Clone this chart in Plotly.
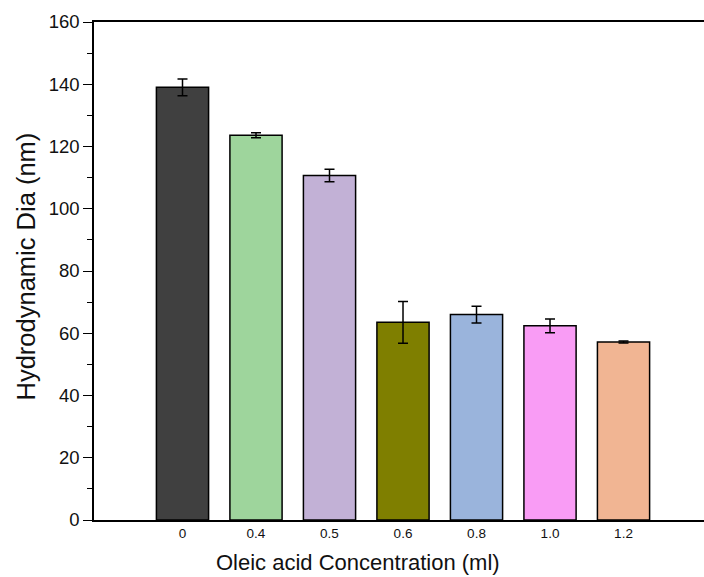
import plotly.graph_objects as go

categories = ["0", "0.4", "0.5", "0.6", "0.8", "1.0", "1.2"]
diameters = [139.0, 123.6, 110.7, 63.5, 66.0, 62.4, 57.2]
errors = [2.7, 0.8, 2.0, 6.7, 2.7, 2.2, 0.3]
colors = ["#404040", "#9ed59c", "#c2b1d6", "#7f7f00", "#9ab4dc", "#f99cf5", "#f1b593"]

positions = list(range(len(categories)))

W, H = 704, 577
ML, MR, MT, MB = 94, 0, 22, 57
pw = W - ML - MR
ph = H - MT - MB

fig = go.Figure()
fig.add_trace(go.Bar(
    x=positions, y=diameters,
    marker=dict(color=colors, line=dict(color="black", width=1.5)),
    error_y=dict(type="data", array=errors, visible=True, color="black",
                 thickness=1.5, width=5),
    width=0.71,
    showlegend=False,
))

font_family = "Liberation Sans, Arial, sans-serif"
fig.update_layout(
    width=W, height=H,
    margin=dict(l=ML, r=MR, t=MT, b=MB, pad=0),
    paper_bgcolor="white", plot_bgcolor="white",
    font=dict(family=font_family, color="#111111"),
    xaxis=dict(
        range=[-1.204, 7.095],
        tickvals=positions, ticktext=categories,
        tickfont=dict(size=13.5),
        ticks="", showline=True, linecolor="black", linewidth=1.5,
        mirror=True, showgrid=False, zeroline=False,
    ),
    yaxis=dict(
        range=[0, 160], dtick=20, tick0=0,
        tickfont=dict(size=18.5),
        ticks="outside", ticklen=9, tickwidth=1.3, tickcolor="black",
        minor=dict(dtick=10, ticks="outside", ticklen=5, tickwidth=1.3, tickcolor="black"),
        showline=True, linecolor="black", linewidth=1.5,
        showgrid=False, zeroline=False,
    ),
)

fig.add_annotation(
    text="Oleic acid Concentration (ml)", xref="paper", yref="paper",
    x=(358 - ML) / pw, y=-(562 - MT - ph) / ph,
    xanchor="center", yanchor="middle", showarrow=False,
    font=dict(size=22, family=font_family, color="#111111"),
)
fig.add_annotation(
    text="Hydrodynamic Dia (nm)", xref="paper", yref="paper",
    x=(25 - ML) / pw, y=1 - (266.5 - MT) / ph,
    xanchor="center", yanchor="middle", showarrow=False, textangle=-90,
    font=dict(size=25.5, family=font_family, color="#111111"),
)

fig.write_html("out.html")
